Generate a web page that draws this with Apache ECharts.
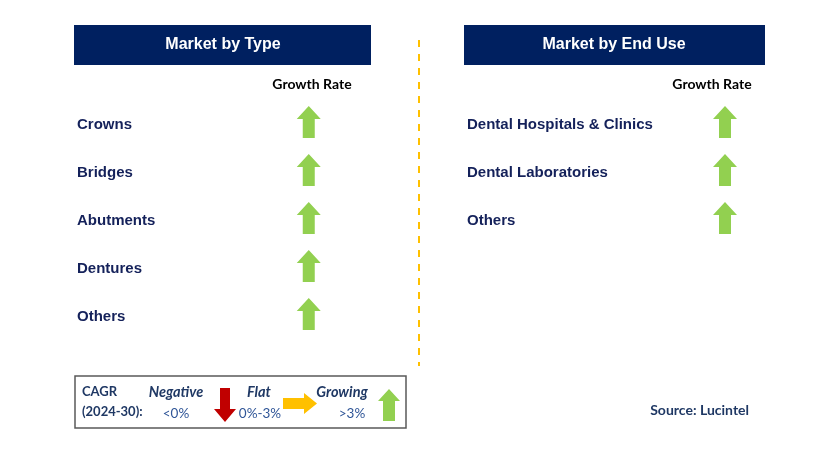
<!DOCTYPE html>
<html><head><meta charset="utf-8">
<script src="https://cdn.jsdelivr.net/npm/echarts@6/dist/echarts.min.js"></script>
<style>html,body{margin:0;padding:0;background:#fff}#c{width:829px;height:460px}</style>
</head><body><div id="c"></div>
<script>
// ---- data ----
const typeTitle = 'Market by Type';
const endUseTitle = 'Market by End Use';
const columns = ['Segment', 'Growth Rate'];
const typeCategories = ['Crowns', 'Bridges', 'Abutments', 'Dentures', 'Others'];
const typeTrend = ['Growing', 'Growing', 'Growing', 'Growing', 'Growing'];
const endUseCategories = ['Dental Hospitals & Clinics', 'Dental Laboratories', 'Others'];
const endUseTrend = ['Growing', 'Growing', 'Growing'];
const legendItems = ['Negative', 'Flat', 'Growing'];
const legendRanges = ['<0%', '0%-3%', '>3%'];
const cagrLabel = ['CAGR', '(2024-30):'];
const sourceText = 'Source: Lucintel';

// ---- styles ----
const NAVY = '#002060';
const TXT = '#14215a';
const GREEN = '#92D050';
const RED = '#C00000';
const YELLOW = '#FFC000';
const UP = 'path://M12,0 L24,13 L18,13 L18,32 L6,32 L6,13 L0,13 Z';
const DOWN = 'path://M6,0 L18,0 L18,19 L24,19 L12,32 L0,19 L6,19 Z';
const RIGHT = 'path://M0,6 L19,6 L19,0 L32,12 L19,24 L19,18 L0,18 Z';
const trendSymbol = {Growing: [UP, GREEN], Flat: [RIGHT, YELLOW], Negative: [DOWN, RED]};

function seriesData(cats, trends) {
  return cats.map((c, i) => ({
    value: [columns[1], c],
    symbol: trendSymbol[trends[i]][0],
    itemStyle: {color: trendSymbol[trends[i]][1], opacity: 1}
  }));
}
function poly(pts, dx, dy, fill) {
  return {type: 'polygon', shape: {points: pts.map(p => [p[0] + dx, p[1] + dy])}, style: {fill: fill}};
}

const chart = echarts.init(document.getElementById('c'), null, {renderer: 'canvas'});
const labelFont = {fontFamily: 'Liberation Sans, Arial', fontWeight: 'bold', fontSize: 15, color: TXT};

const option = {
  animation: false,
  backgroundColor: '#fff',
  grid: [
    {left: 77, top: 101, width: 309, height: 240},
    {left: 467, top: 101, width: 344, height: 144}
  ],
  xAxis: [0, 1].map(g => ({
    type: 'category', gridIndex: g, data: columns, show: false
  })),
  yAxis: [
    {type: 'category', gridIndex: 0, data: typeCategories, inverse: true,
     axisLine: {show: false}, axisTick: {show: false}, splitLine: {show: false},
     axisLabel: Object.assign({inside: true, margin: 0, align: 'left'}, labelFont)},
    {type: 'category', gridIndex: 1, data: endUseCategories, inverse: true,
     axisLine: {show: false}, axisTick: {show: false}, splitLine: {show: false},
     axisLabel: Object.assign({inside: true, margin: 0, align: 'left'}, labelFont)}
  ],
  series: [
    {type: 'scatter', xAxisIndex: 0, yAxisIndex: 0, symbolSize: [24, 32], symbolOffset: [0, -3],
     itemStyle: {opacity: 1}, data: seriesData(typeCategories, typeTrend)},
    {type: 'scatter', xAxisIndex: 1, yAxisIndex: 1, symbolSize: [24, 32], symbolOffset: [0, -3],
     itemStyle: {opacity: 1}, data: seriesData(endUseCategories, endUseTrend)}
  ],
  graphic: [
    // header boxes
    {type: 'rect', shape: {x: 74, y: 25, width: 297, height: 40}, style: {fill: NAVY}},
    {type: 'text', x: 223, y: 45, style: {text: typeTitle, fill: '#fff', font: 'bold 16px "Liberation Sans", Arial', textAlign: 'center', textVerticalAlign: 'middle'}},
    {type: 'rect', shape: {x: 464, y: 25, width: 301, height: 40}, style: {fill: NAVY}},
    {type: 'text', x: 614, y: 45, style: {text: endUseTitle, fill: '#fff', font: 'bold 16px "Liberation Sans", Arial', textAlign: 'center', textVerticalAlign: 'middle'}},
    // column headers
    {type: 'text', x: 312, y: 84, style: {text: columns[1], fill: '#000', font: 'bold 14px Lato, "Open Sans", sans-serif', textAlign: 'center', textVerticalAlign: 'middle'}},
    {type: 'text', x: 712, y: 84, style: {text: columns[1], fill: '#000', font: 'bold 14px Lato, "Open Sans", sans-serif', textAlign: 'center', textVerticalAlign: 'middle'}},
    // divider
    {type: 'line', shape: {x1: 419, y1: 40, x2: 419, y2: 366}, style: {stroke: YELLOW, lineWidth: 2, lineDash: [7, 7]}},
    // legend box
    {type: 'rect', shape: {x: 75, y: 376, width: 331, height: 52}, style: {fill: 'none', stroke: '#595959', lineWidth: 1.5}},
    {type: 'text', x: 82, y: 392, style: {text: cagrLabel[0], fill: '#1f3864', font: 'bold 13px Lato, sans-serif', textVerticalAlign: 'middle'}},
    {type: 'text', x: 82, y: 412, style: {text: cagrLabel[1], fill: '#1f3864', font: 'bold 13px Lato, sans-serif', textVerticalAlign: 'middle'}},
    {type: 'text', x: 176, y: 392, style: {text: legendItems[0], fill: '#1f3864', font: 'italic bold 14.5px Lato, sans-serif', textAlign: 'center', textVerticalAlign: 'middle'}},
    {type: 'text', x: 176, y: 414, style: {text: legendRanges[0], fill: '#2f5597', font: '13.5px Lato, sans-serif', textAlign: 'center', textVerticalAlign: 'middle'}},
    poly([[6,0],[16,0],[16,21],[22,21],[11,34],[0,21],[6,21]], 214, 388, RED),
    {type: 'text', x: 259, y: 392, style: {text: legendItems[1], fill: '#1f3864', font: 'italic bold 14.5px Lato, sans-serif', textAlign: 'center', textVerticalAlign: 'middle'}},
    {type: 'text', x: 260, y: 414, style: {text: legendRanges[1], fill: '#2f5597', font: '13.5px Lato, sans-serif', textAlign: 'center', textVerticalAlign: 'middle'}},
    poly([[0,5],[21,5],[21,0],[34,10.5],[21,21],[21,16],[0,16]], 283, 393, YELLOW),
    {type: 'text', x: 342, y: 392, style: {text: legendItems[2], fill: '#1f3864', font: 'italic bold 14.5px Lato, sans-serif', textAlign: 'center', textVerticalAlign: 'middle'}},
    {type: 'text', x: 352, y: 414, style: {text: legendRanges[2], fill: '#2f5597', font: '13.5px Lato, sans-serif', textAlign: 'center', textVerticalAlign: 'middle'}},
    poly([[11,0],[22,12],[17,12],[17,32],[5,32],[5,12],[0,12]], 378, 389, GREEN),
    // source
    {type: 'text', x: 749, y: 410, style: {text: sourceText, fill: '#1f3864', font: 'bold 14px Lato, sans-serif', textAlign: 'right', textVerticalAlign: 'middle'}}
  ]
};
chart.setOption(option);
</script>
</body></html>
